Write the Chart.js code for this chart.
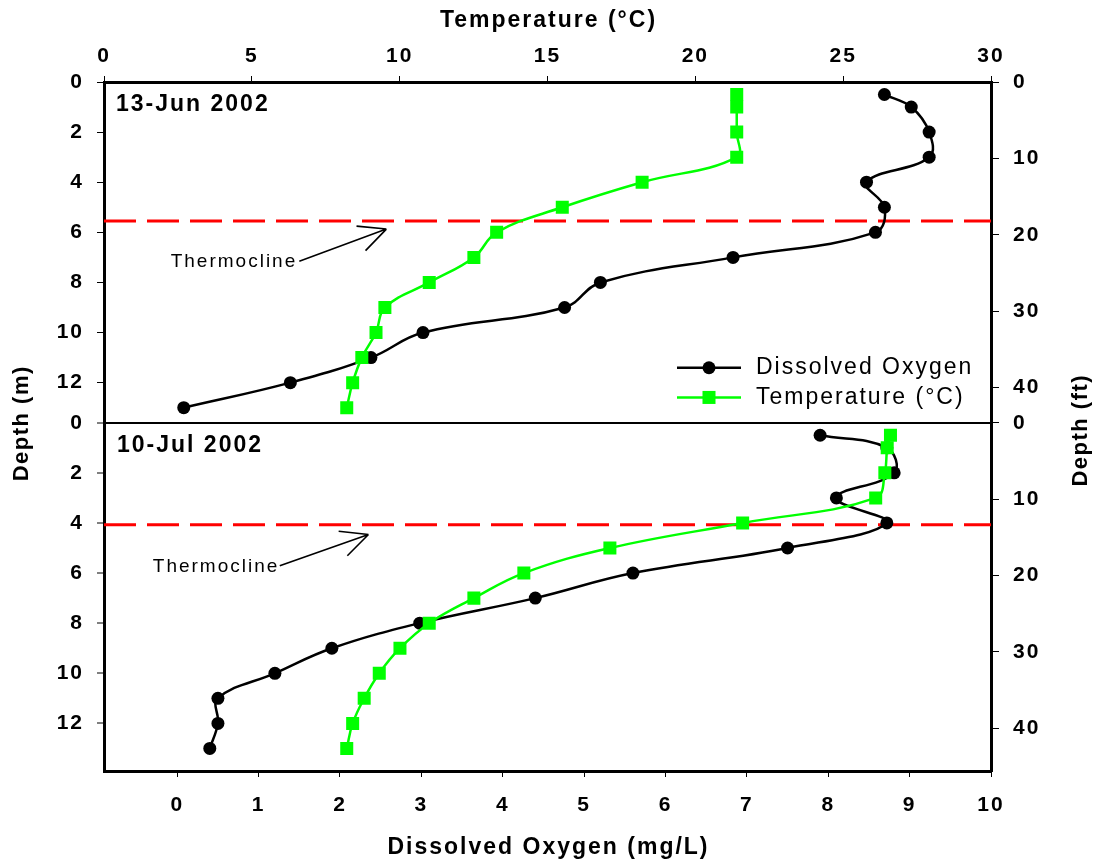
<!DOCTYPE html>
<html>
<head>
<meta charset="utf-8">
<script src="https://cdn.jsdelivr.net/npm/chart.js@4.4.1/dist/chart.umd.min.js"></script>
<style>
  body { margin: 0; background: #fff; }
  #wrap { position: relative; width: 1094px; height: 865px; }
</style>
</head>
<body>
<div id="wrap"><canvas id="perfilChart" width="1094" height="865"></canvas></div>
<script>
// Profundidades de muestreo (m)
const depths = [0.5, 1, 2, 3, 4, 5, 6, 7, 8, 9, 10, 11, 12, 13];

// 13-Jun 2002
const junOxygen = [8.69, 9.02, 9.24, 9.24, 8.47, 8.69, 8.58, 6.83, 5.20, 4.76, 3.02, 2.38, 1.39, 0.08];
const junTemp = [21.4, 21.4, 21.4, 21.4, 18.2, 15.5, 13.28, 12.51, 11.0, 9.5, 9.2, 8.72, 8.41, 8.21];

// 10-Jul 2002
const julOxygen = [7.90, 8.72, 8.81, 8.10, 8.72, 7.50, 5.60, 4.40, 2.98, 1.90, 1.20, 0.50, 0.50, 0.40];
const julTemp = [26.6, 26.49, 26.41, 26.1, 21.6, 17.11, 14.2, 12.51, 11.0, 10.01, 9.31, 8.8, 8.41, 8.21];

const panelLabels = ['13-Jun 2002', '10-Jul 2002'];
const thermoclineDepths = [5.55, 4.07];
const seriesLabels = ['Dissolved Oxygen', 'Temperature (°C)'];

// Marcas de los ejes
const oxygenTicks = [0, 1, 2, 3, 4, 5, 6, 7, 8, 9, 10];
const tempTicks = [0, 5, 10, 15, 20, 25, 30];
const depthMTicks = [0, 2, 4, 6, 8, 10, 12];
const depthFtTicks = [0, 10, 20, 30, 40];

// Rangos de los ejes
const OXY_MIN = -0.9, OXY_MAX = 10;
const TEMP_MIN = 0, TEMP_MAX = 30;
const panelMax = [13.6, 13.9];
const FT_PER_M = 3.28084;

const FONT = '"Liberation Sans", Arial, Helvetica, sans-serif';
const GREEN = '#00ff00';
const tickFont = { family: FONT, size: 21, weight: 'bold' };

function toPoints(values) {
  return depths.map((d, i) => ({ x: values[i], y: d }));
}

function oxygenSet(values, yAxis) {
  return {
    label: seriesLabels[0],
    data: toPoints(values),
    xAxisID: 'xO', yAxisID: yAxis,
    showLine: true, tension: 0.4,
    borderColor: '#000', borderWidth: 2.5,
    pointStyle: 'circle', pointRadius: 6.5,
    pointBackgroundColor: '#000', pointBorderColor: '#000', pointBorderWidth: 0,
    order: 2
  };
}

function tempSet(values, yAxis) {
  return {
    label: seriesLabels[1],
    data: toPoints(values),
    xAxisID: 'xT', yAxisID: yAxis,
    showLine: true, tension: 0.4,
    borderColor: GREEN, borderWidth: 2.5,
    pointStyle: 'rect', pointRadius: 9.2,
    pointBackgroundColor: GREEN, pointBorderColor: GREEN, pointBorderWidth: 0,
    order: 1
  };
}

// Línea discontinua de la termoclina
function thermoSet(depth, yAxis) {
  return {
    label: 'Thermocline',
    data: [{ x: TEMP_MIN, y: depth }, { x: TEMP_MAX, y: depth }],
    xAxisID: 'xT', yAxisID: yAxis,
    showLine: true, tension: 0,
    borderColor: '#ff0000', borderWidth: 3, borderDash: [32, 11],
    pointRadius: 0,
    order: 3
  };
}

function fixedTicks(list) {
  return scale => { scale.ticks = list.map(v => ({ value: v })); };
}

function plainGrid(len) {
  return { drawOnChartArea: false, drawTicks: true, tickLength: len, tickColor: '#000', tickWidth: 1, color: '#000' };
}

function depthAxis(max, weight, withDivider) {
  const grid = plainGrid(7);
  if (withDivider) {
    // línea que separa los dos paneles
    grid.drawOnChartArea = true;
    grid.color = c => (c.tick && c.tick.value === 0 ? '#000' : 'rgba(0,0,0,0)');
    grid.lineWidth = 2;
  }
  return {
    type: 'linear', axis: 'y', position: 'left',
    stack: 'izq', stackWeight: max, weight: weight,
    reverse: true, min: 0, max: max,
    afterBuildTicks: fixedTicks(depthMTicks),
    afterFit: s => { s.width = 104; },
    ticks: { font: tickFont, color: '#000', padding: 13 },
    grid: grid,
    border: { display: true, color: '#000', width: 3 }
  };
}

function feetAxis(max, weight) {
  return {
    type: 'linear', axis: 'y', position: 'right',
    stack: 'der', stackWeight: max, weight: weight,
    reverse: true, min: 0, max: max * FT_PER_M,
    afterBuildTicks: fixedTicks(depthFtTicks),
    afterFit: s => { s.width = 103; },
    ticks: { font: tickFont, color: '#000', padding: 14 },
    grid: plainGrid(8),
    border: { display: true, color: '#000', width: 3 }
  };
}

// Textos, leyenda y flechas de la termoclina
const notas = [
  { y: 'yTop', texto: [1.45, 7.17], cola: [1.50, 7.15], punta: [2.57, 5.87] },
  { y: 'yBot', texto: [1.23, 5.75], cola: [1.26, 5.71], punta: [2.35, 4.46] }
];

function spaced(ctx, text, x, y, font, spacing, align) {
  ctx.save();
  ctx.font = font;
  ctx.letterSpacing = spacing + 'px';
  ctx.textAlign = align || 'center';
  ctx.textBaseline = 'middle';
  ctx.fillStyle = '#000';
  // compensar el espacio extra tras la última letra
  let dx = 0;
  if (ctx.textAlign === 'center') dx = spacing / 2;
  if (ctx.textAlign === 'right') dx = spacing;
  ctx.fillText(text, x + dx, y);
  ctx.restore();
}

const textos = {
  id: 'textos',
  beforeUpdate(chart) { chart.ctx.letterSpacing = '2px'; },
  beforeDraw(chart) { chart.ctx.letterSpacing = '2px'; },
  afterDraw(chart) {
    const c = chart.ctx;
    const area = chart.chartArea;
    const s = chart.scales;
    const mid = (area.left + area.right) / 2;

    // títulos de los ejes
    spaced(c, 'Temperature (°C)', mid, 21, 'bold 23px ' + FONT, 2);
    spaced(c, 'Dissolved Oxygen (mg/L)', mid, 848, 'bold 23px ' + FONT, 2);

    c.save();
    c.translate(22, 424);
    c.rotate(-Math.PI / 2);
    spaced(c, 'Depth (m)', 0, 0, 'bold 22px ' + FONT, 1.5);
    c.restore();

    c.save();
    c.translate(1081, 431);
    c.rotate(-Math.PI / 2);
    spaced(c, 'Depth (ft)', 0, 0, 'bold 22px ' + FONT, 1.5);
    c.restore();

    // etiquetas de los paneles
    spaced(c, panelLabels[0], area.left + 12, s.yTop.top + 23, 'bold 23px ' + FONT, 2, 'left');
    spaced(c, panelLabels[1], area.left + 13, s.yBot.top + 22.5, 'bold 23px ' + FONT, 2, 'left');

    // flechas "Thermocline"
    notas.forEach(n => {
      const ys = s[n.y];
      const tx = s.xO.getPixelForValue(n.texto[0]);
      const ty = ys.getPixelForValue(n.texto[1]);
      spaced(c, 'Thermocline', tx, ty, '19px ' + FONT, 2, 'right');

      const x0 = s.xO.getPixelForValue(n.cola[0]);
      const y0 = ys.getPixelForValue(n.cola[1]);
      const x1 = s.xO.getPixelForValue(n.punta[0]);
      const y1 = ys.getPixelForValue(n.punta[1]);
      const ang = Math.atan2(y1 - y0, x1 - x0);
      c.save();
      c.strokeStyle = '#000';
      c.lineWidth = 1.6;
      c.beginPath();
      c.moveTo(x0, y0);
      c.lineTo(x1, y1);
      [0.45, -0.45].forEach(a => {
        c.moveTo(x1, y1);
        c.lineTo(x1 + 30 * Math.cos(ang + Math.PI + a), y1 + 30 * Math.sin(ang + Math.PI + a));
      });
      c.stroke();
      c.restore();
    });

    // leyenda
    const top = chart.data.datasets.slice(0, 2);
    top.forEach((ds, i) => {
      const y = s.yTop.bottom - 55 + i * 29.7;
      c.save();
      c.strokeStyle = ds.borderColor;
      c.lineWidth = ds.borderWidth;
      c.beginPath();
      c.moveTo(area.right - 314, y);
      c.lineTo(area.right - 250, y);
      c.stroke();
      c.fillStyle = ds.pointBackgroundColor;
      Chart.helpers.drawPoint(c, { pointStyle: ds.pointStyle, radius: ds.pointRadius, rotation: 0, borderWidth: 0 }, area.right - 282, y);
      c.restore();
      spaced(c, ds.label, area.right - 235, y, '23px ' + FONT, 2, 'left');
    });
  }
};

const perfilChart = new Chart(document.getElementById('perfilChart').getContext('2d'), {
  type: 'scatter',
  data: {
    datasets: [
      oxygenSet(junOxygen, 'yTop'),
      tempSet(junTemp, 'yTop'),
      oxygenSet(julOxygen, 'yBot'),
      tempSet(julTemp, 'yBot'),
      thermoSet(thermoclineDepths[0], 'yTop'),
      thermoSet(thermoclineDepths[1], 'yBot')
    ]
  },
  options: {
    responsive: false,
    animation: false,
    devicePixelRatio: 1,
    events: [],
    layout: { padding: 0 },
    plugins: { legend: { display: false }, tooltip: { enabled: false } },
    scales: {
      xO: {
        type: 'linear', axis: 'x', position: 'bottom',
        min: OXY_MIN, max: OXY_MAX,
        afterBuildTicks: fixedTicks(oxygenTicks),
        afterFit: s => { s.height = 94; },
        ticks: { font: tickFont, color: '#000', padding: 16, maxRotation: 0, autoSkip: false },
        grid: plainGrid(6),
        border: { display: true, color: '#000', width: 3 }
      },
      xT: {
        type: 'linear', axis: 'x', position: 'top',
        min: TEMP_MIN, max: TEMP_MAX,
        afterBuildTicks: fixedTicks(tempTicks),
        afterFit: s => { s.height = 82; },
        ticks: { font: tickFont, color: '#000', padding: 7, maxRotation: 0, autoSkip: false },
        grid: plainGrid(6),
        border: { display: true, color: '#000', width: 3 }
      },
      yTop: depthAxis(panelMax[0], 1, false),
      yBot: depthAxis(panelMax[1], 0, true),
      fTop: feetAxis(panelMax[0], 0),
      fBot: feetAxis(panelMax[1], 1)
    }
  },
  plugins: [textos]
});
</script>
</body>
</html>
